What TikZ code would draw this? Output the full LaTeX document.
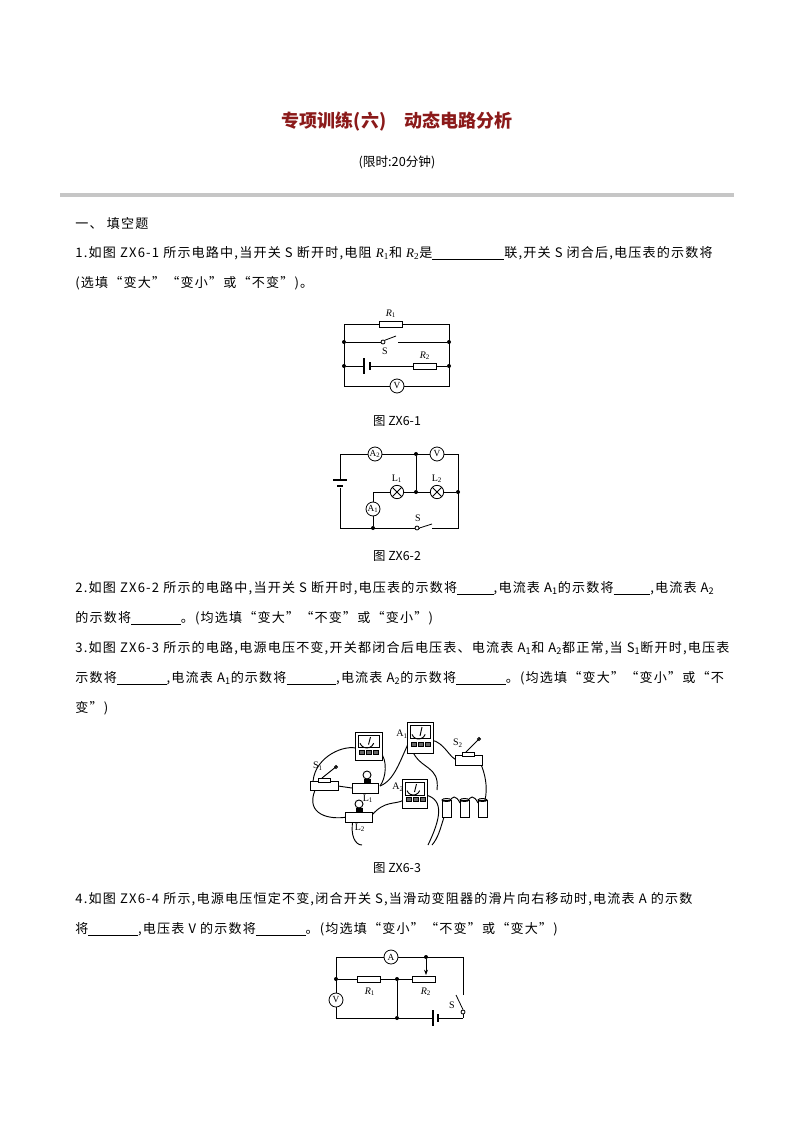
\documentclass[tikz,border=0pt]{standalone}
\usepackage{fontspec}
\setmainfont{Liberation Serif}
\newfontfamily\cjk{Noto Sans CJK SC}
\newfontfamily\cjkw{Noto Sans CJK SC}[LetterSpace=9]
\usetikzlibrary{arrows.meta}
\definecolor{titlered}{HTML}{8B1A1A}
\newcommand{\blank}[1]{\underline{\hspace{#1}}}
\newcommand{\Rv}[1]{{\rmfamily\textit{R}\textsubscript{#1}}}
\begin{document}
\begin{tikzpicture}[x=0.75pt,y=-0.75pt,line width=0.6pt,
  txt/.style={anchor=west,inner sep=0,font=\cjkw\fontsize{9.8}{11}\selectfont},
  captxt/.style={inner sep=0,font=\cjk\fontsize{9.3}{11}\selectfont},
  lbl/.style={inner sep=0,font=\fontsize{7.5}{9}\selectfont},
  res/.style={draw,fill=white,minimum width=17pt,minimum height=4.5pt,inner sep=0},
  meterc/.style={draw,circle,fill=white,minimum size=10.5pt,inner sep=0,font=\fontsize{7}{8}\selectfont},
  lamp/.style={draw,circle,fill=white,minimum size=10pt,inner sep=0,path picture={\draw (path picture bounding box.south west)--(path picture bounding box.north east) (path picture bounding box.north west)--(path picture bounding box.south east);}},
  dot/.style={circle,fill,inner sep=0,minimum size=3pt},
  odot/.style={circle,draw,fill=white,inner sep=0,minimum size=3pt}]
\useasboundingbox (0,0) rectangle (794,1123);
% header
\node[font=\cjk\bfseries\fontsize{13.5}{15}\selectfont,text=titlered] (title) at (397,122) {专项训练(六)\quad 动态电路分析};
\node[captxt,font=\cjk\fontsize{9.5}{11}\selectfont] (limit) at (397,162) {(限时:20分钟)};
\fill[gray!45] (60,193) rectangle (734,197);
\node[txt] (sec) at (75,223) {一、\ 填空题};
% Q1
\node[txt] (q1a) at (75,253) {1.如图 ZX6-1 所示电路中,当开关 S 断开时,电阻 \Rv{1}和 \Rv{2}是\blank{5.5em}联,开关 S 闭合后,电压表的示数将};
\node[txt] (q1b) at (75,283) {(选填“变大”“变小”或“不变”)。};
% circuit 1
\coordinate (a1) at (344,324); \coordinate (b1) at (449,324);
\coordinate (c1) at (344,386); \coordinate (d1) at (449,386);
\draw (a1)--(b1)--(d1)--(c1)--cycle;
\node[res] (r1) at (391,324) {};
\node[lbl,anchor=south] (r1l) at (391,318) {\textit{R}\textsubscript{1}};
\node[dot] (j1) at (344,342) {}; \node[dot] (j2) at (449,342) {};
\node[odot] (sp1) at (383,342) {};
\coordinate (se1) at (398,342);
\draw (j1)--(sp1) (se1)--(j2);
\draw (sp1.north east)--(396,336);
\node[lbl] (s1l) at (385,351) {S};
\node[dot] (j3) at (344,366) {}; \node[dot] (j4) at (449,366) {};
\draw (j3)--(j4);
\fill[white] (363,358) rectangle (371,374);
\draw[line width=0.8pt] (364,358)--(364,374);
\draw[line width=1.4pt] (370,362)--(370,370);
\node[res] (r2) at (425,366) {};
\node[lbl,anchor=south] (r2l) at (425,360) {\textit{R}\textsubscript{2}};
\node[meterc] (v1) at (397,386) {V};
\node[captxt] (cap1) at (397,421) {图 ZX6-1};
% circuit 2
\coordinate (a2) at (340,454); \coordinate (b2) at (458,454);
\coordinate (c2) at (340,528); \coordinate (d2) at (458,528);
\draw (a2)--(b2)--(d2)--(c2)--cycle;
\fill[white] (330,479) rectangle (350,488);
\draw[line width=0.8pt] (333,480)--(347,480);
\draw[line width=1.4pt] (337,486)--(343,486);
\node[meterc] (a2m) at (375,454) {A\textsubscript{2}};
\node[meterc] (vm2) at (437,454) {V};
\node[dot] (k1) at (416,454) {}; \node[dot] (k2) at (416,492) {};
\draw (k1)--(k2);
\coordinate (k3) at (373,492); \node[dot] (k4) at (458,492) {};
\draw (k3)--(k4);
\node[lamp] (l1) at (397,492) {}; \node[lamp] (l2) at (437,492) {};
\node[lbl] (l1l) at (397,479) {L\textsubscript{1}};
\node[lbl] (l2l) at (437,479) {L\textsubscript{2}};
\node[dot] (k5) at (373,528) {};
\draw (k3)--(k5);
\node[meterc] (a1m) at (373,509) {A\textsubscript{1}};
\node[odot] (sp2) at (417,528) {};
\fill[white] (420,526) rectangle (432,530);
\draw (sp2.east)--(432,524);
\node[lbl] (s2l) at (418,518) {S};
\node[captxt] (cap2) at (397,556) {图 ZX6-2};
% Q2
\node[txt] (q2a) at (75,588) {2.如图 ZX6-2 所示的电路中,当开关 S 断开时,电压表的示数将\blank{2.8em},电流表 A\textsubscript{1}的示数将\blank{2.8em},电流表 A\textsubscript{2}};
\node[txt] (q2b) at (75,618) {的示数将\blank{3.8em}。(均选填“变大”“不变”或“变小”)};
% Q3
\node[txt] (q3a) at (75,648) {3.如图 ZX6-3 所示的电路,电源电压不变,开关都闭合后电压表、电流表 A\textsubscript{1}和 A\textsubscript{2}都正常,当 S\textsubscript{1}断开时,电压表};
\node[txt] (q3b) at (75,678) {示数将\blank{3.8em},电流表 A\textsubscript{1}的示数将\blank{3.8em},电流表 A\textsubscript{2}的示数将\blank{3.8em}。(均选填“变大”“变小”或“不};
\node[txt] (q3c) at (75,708) {变”)};
% circuit 3 (pictorial)
\begin{scope}[line width=0.7pt]
\draw (313,785) .. controls (312,760) and (340,745) .. (356,748);
\draw (380,752) .. controls (388,760) and (386,778) .. (380,786);
\draw (380,786) .. controls (395,780) and (400,760) .. (410,740);
\draw (412,750) .. controls (420,770) and (440,765) .. (437,790);
\draw (431,740) .. controls (445,742) and (450,760) .. (458,760);
\draw (480,762) .. controls (488,780) and (487,795) .. (484,803);
\draw (315,790) .. controls (305,815) and (330,820) .. (347,817);
\draw (372,815) .. controls (385,800) and (395,805) .. (404,800);
\draw (353,820) .. controls (350,835) and (355,845) .. (362,845);
\draw (426,795) .. controls (445,800) and (440,820) .. (428,845);
\draw (338,786)--(352,788);
\draw (449,803) .. controls (452,795) and (456,795) .. (460,803);
\draw (467,803) .. controls (470,795) and (474,795) .. (478,803);
\draw (444,817) .. controls (440,830) and (438,838) .. (432,845);
\foreach \x/\y/\w/\h in {355/732/27/28, 407/722/26/31, 402/779/25/29}{
  \draw[fill=white] (\x,\y) rectangle ++(\w,\h);
  \draw (\x+3,\y+3) rectangle ++(\w-6,\h*0.45);
  \draw (\x+5,\y+\h*0.4) arc[start angle=160,end angle=20,radius=\w*0.27];
  \draw (\x+\w/2,\y+\h*0.45)--(\x+\w/2+2,\y+5);
  \foreach \i in {0,1,2}{\draw[fill=black!60] (\x+4+\i*7,\y+\h*0.65) rectangle ++(5,4);}
}
\draw[fill=white] (310,781) rectangle (338,790);
\draw[fill=white] (318,778) rectangle (330,782);
\draw (322,778)--(337,766); \draw (336,767) circle (1.5);
\draw[fill=white] (455,755) rectangle (482,765);
\draw[fill=white] (462,752) rectangle (474,756);
\draw (466,752)--(480,738); \draw (479,739) circle (1.5);
\draw[fill=white] (352,783) rectangle (378,793);
\draw[fill=white] (367,775) circle (4); \draw[fill=black] (364,779) rectangle (370,783);
\draw[fill=white] (345,812) rectangle (372,822);
\draw[fill=white] (359,804) circle (4); \draw[fill=black] (356,808) rectangle (362,812);
\foreach \x in {442,460,478}{
  \draw[fill=white] (\x,800) rectangle ++(9,17);
  \draw (\x+4.5,800) ellipse (4.5 and 1.5);
}
\end{scope}
\node[lbl] (s1) at (318,766) {S\textsubscript{1}};
\node[lbl] (l1c) at (368,799) {L\textsubscript{1}};
\node[lbl] (l2c) at (360,828) {L\textsubscript{2}};
\node[lbl] (a1c) at (402,734) {A\textsubscript{1}};
\node[lbl] (a2c) at (398,787) {A\textsubscript{2}};
\node[lbl] (s2c) at (458,743) {S\textsubscript{2}};
\node[captxt] (cap3) at (397,868) {图 ZX6-3};
% Q4
\node[txt] (q4a) at (75,899) {4.如图 ZX6-4 所示,电源电压恒定不变,闭合开关 S,当滑动变阻器的滑片向右移动时,电流表 A 的示数};
\node[txt] (q4b) at (75,929) {将\blank{3.8em},电压表 V 的示数将\blank{3.8em}。(均选填“变小”“不变”或“变大”)};
% circuit 4
\coordinate (a4) at (336,957); \coordinate (b4) at (463,957);
\coordinate (c4) at (336,1018); \coordinate (d4) at (463,1018);
\coordinate (sw4) at (463,995);
\draw (sw4)--(b4)--(a4)--(c4)--(d4);
\node[odot] (sp4) at (463,1012) {};
\draw (sp4)--(d4);
\draw (sp4.north)--(456,995);
\node[lbl] (s4l) at (452,1005) {S};
\node[meterc] (am4) at (391,957) {A};
\node[dot] (m1) at (336,979) {}; \node[dot] (m2) at (397,979) {};
\coordinate (m3) at (436,979);
\draw (m1)--(m3);
\node[res] (r41) at (369,979) {};
\node[res] (r42) at (424,979) {};
\node[lbl] (r41l) at (370,992) {\textit{R}\textsubscript{1}};
\node[lbl] (r42l) at (426,992) {\textit{R}\textsubscript{2}};
\node[dot] (m4) at (426,957) {};
\draw[-{Stealth[length=4pt]}] (m4)--(426,975);
\node[dot] (m5) at (397,1018) {};
\draw (m2)--(m5);
\node[meterc] (vm4) at (336,1000) {V};
\fill[white] (432,1010) rectangle (439,1026);
\draw[line width=0.8pt] (433,1010)--(433,1026);
\draw[line width=1.4pt] (438,1014)--(438,1022);
\end{tikzpicture}
\end{document}
